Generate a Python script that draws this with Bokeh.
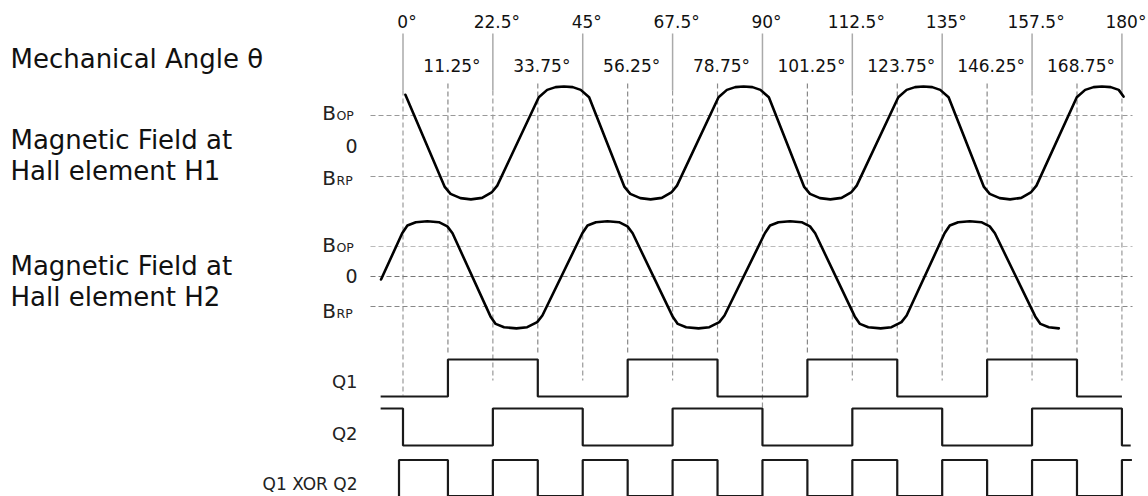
from bokeh.plotting import figure
from bokeh.models import Range1d
from bokeh.embed import file_html
from bokeh.resources import INLINE
from bokeh.core.properties import value

# ---------------- data ----------------
major_angles = [0, 22.5, 45, 67.5, 90, 112.5, 135, 157.5, 180]
major_labels = ["0°", "22.5°", "45°", "67.5°", "90°", "112.5°", "135°", "157.5°", "180°"]
minor_angles = [11.25, 33.75, 56.25, 78.75, 101.25, 123.75, 146.25, 168.75]
minor_labels = ["11.25°", "33.75°", "56.25°", "78.75°", "101.25°", "123.75°", "146.25°", "168.75°"]

# magnetic field at H1 (units: Bop = 1, Brp = -1)
h1_angle = [0.6, 10.4, 11.9, 14.4, 17.0, 19.8, 22.3, 23.6,
            34.0, 36.1, 38.2, 40.3, 42.5, 44.5, 46.6,
            55.4, 56.9, 59.4, 62.0, 64.8, 67.3, 68.6,
            79.0, 81.1, 83.2, 85.3, 87.5, 89.5, 91.6,
            100.4, 101.9, 104.4, 107.0, 109.8, 112.3, 113.6,
            124.0, 126.1, 128.2, 130.3, 132.5, 134.5, 136.6,
            145.4, 146.9, 149.4, 152.0, 154.8, 157.3, 158.6,
            168.7, 170.8, 172.9, 175.0, 177.2, 179.2, 180.4]
h1_field = [1.68, -1.33, -1.57, -1.71, -1.75, -1.70, -1.51, -1.30,
            1.60, 1.84, 1.93, 1.95, 1.93, 1.84, 1.60,
            -1.33, -1.57, -1.71, -1.75, -1.70, -1.51, -1.30,
            1.60, 1.84, 1.93, 1.95, 1.93, 1.84, 1.60,
            -1.33, -1.57, -1.71, -1.75, -1.70, -1.51, -1.30,
            1.60, 1.84, 1.93, 1.95, 1.93, 1.84, 1.60,
            -1.33, -1.57, -1.71, -1.75, -1.70, -1.51, -1.30,
            1.60, 1.84, 1.93, 1.95, 1.93, 1.84, 1.62]

# magnetic field at H2
h2_angle = [-5.5, -0.2, 1.1, 3.2, 6.1, 9.0, 11.1, 12.4,
            21.9, 23.2, 25.3, 28.4, 31.1, 33.6, 34.9,
            44.9, 46.2, 48.3, 51.2, 54.1, 56.2, 57.5,
            67.5, 68.8, 70.9, 74.0, 76.7, 79.2, 80.5,
            90.6, 91.9, 94.0, 96.9, 99.8, 101.9, 103.2,
            113.1, 114.4, 116.5, 119.6, 122.3, 124.8, 126.1,
            135.6, 136.9, 139.0, 141.9, 144.8, 146.9, 148.2,
            158.3, 159.6, 161.7, 164.2]
h2_field = [-0.10, 1.44, 1.70, 1.81, 1.84, 1.81, 1.67, 1.44,
            -1.33, -1.58, -1.69, -1.73, -1.69, -1.52, -1.30,
            1.44, 1.70, 1.81, 1.84, 1.81, 1.67, 1.44,
            -1.33, -1.58, -1.69, -1.73, -1.69, -1.52, -1.30,
            1.44, 1.70, 1.81, 1.84, 1.81, 1.67, 1.44,
            -1.33, -1.58, -1.69, -1.73, -1.69, -1.52, -1.30,
            1.44, 1.70, 1.81, 1.84, 1.81, 1.67, 1.44,
            -1.33, -1.58, -1.69, -1.73]

field_levels = [1, 0, -1]          # Bop, 0, Brp

q1_angle = [-5.6, 11.25, 33.75, 56.25, 78.75, 101.25, 123.75, 146.25, 168.75, 180]
q1_level = [0, 1, 0, 1, 0, 1, 0, 1, 0, 0]
q2_angle = [-5.6, 0, 22.5, 45, 67.5, 90, 112.5, 135, 157.5, 180, 182.2]
q2_level = [1, 0, 1, 0, 1, 0, 1, 0, 1, 0, 0]
xor_angle = [-1, -1, 11.25, 22.5, 33.75, 45, 56.25, 67.5, 78.75, 90, 101.25,
             112.5, 123.75, 135, 146.25, 157.5, 168.75, 180, 182.5]
xor_level = [0, 1, 0, 1, 0, 1, 0, 1, 0, 1, 0, 1, 0, 1, 0, 1, 0, 1, 1]

# ---------------- layout ----------------
W, H = 1148, 496
X0, PXD = 402.5, 3.994
FONT = value("DejaVu Sans")


def base(y, size):
    # compensate the renderer's baseline placement so glyph baselines land at y
    return y - 0.38 * size


p = figure(width=W, height=H, x_range=Range1d(0, W), y_range=Range1d(H, 0),
           min_border=0, toolbar_location=None, output_backend="svg",
           x_axis_location=None, y_axis_location=None)
p.grid.visible = False
p.outline_line_color = None
p.background_fill_color = "white"
p.border_fill_color = "white"


def prange(zero_px, unit_px):
    return Range1d((zero_px - H) / unit_px, zero_px / unit_px)


p.extra_x_ranges = {"deg": Range1d(-X0 / PXD, (W - X0) / PXD)}
p.extra_y_ranges = {"h1": prange(145.5, 30.5), "h2": prange(276, 30),
                    "q1": prange(396, 37), "q2": prange(445, 37),
                    "xor": prange(495.5, 36)}

# top solid tick lines (majors)
n = len(major_angles)
p.segment(x0=major_angles, x1=major_angles, y0=[33] * n, y1=[90] * n,
          x_range_name="deg", line_color="#aaaaaa", line_width=1.5)
# vertical dashed guides
maj_end = {0: 395, 90: 407}
p.segment(x0=major_angles, x1=major_angles, y0=[90] * n,
          y1=[maj_end.get(a, 380) for a in major_angles],
          x_range_name="deg", line_color="#999999", line_width=1.2, line_dash="5 3")
m = len(minor_angles)
p.segment(x0=minor_angles, x1=minor_angles, y0=[83] * m, y1=[352] * m,
          x_range_name="deg", line_color="#888888", line_width=1.2, line_dash="5 3")

# horizontal dashed levels
p.segment(x0=[370, 370], x1=[1132, 1132], y0=[1, -1], y1=[1, -1], y_range_name="h1",
          line_color="#999999", line_width=1.2, line_dash="5 3")
p.segment(x0=[370] * 3, x1=[1132] * 3, y0=field_levels, y1=field_levels, y_range_name="h2",
          line_color=["#bbbbbb", "#777777", "#888888"], line_width=1.2, line_dash="5 3")

# waveforms
p.line(h1_angle, h1_field, x_range_name="deg", y_range_name="h1",
       line_color="black", line_width=2.6, line_join="round", line_cap="round")
p.line(h2_angle, h2_field, x_range_name="deg", y_range_name="h2",
       line_color="black", line_width=2.6, line_join="round", line_cap="round")
for xs, ys, rn in [(q1_angle, q1_level, "q1"), (q2_angle, q2_level, "q2"), (xor_angle, xor_level, "xor")]:
    p.step(xs, ys, mode="after", x_range_name="deg", y_range_name=rn,
           line_color="#1a1a1a", line_width=2.2)

# angle labels
p.text(x=major_angles, y=[base(28, 17)] * n, text=major_labels, x_range_name="deg",
       text_font=FONT, text_font_size="17px", text_align="center",
       text_baseline="alphabetic", text_color="#111111", x_offset=4)
p.text(x=minor_angles, y=[base(72, 17)] * m, text=minor_labels, x_range_name="deg",
       text_font=FONT, text_font_size="17px", text_align="center",
       text_baseline="alphabetic", text_color="#111111", x_offset=4)

# left row titles
p.text(x=[10] * 5, y=[base(v, 26) for v in [68, 149, 180, 275, 306]],
       text=["Mechanical Angle θ", "Magnetic Field at", "Hall element H1",
             "Magnetic Field at", "Hall element H2"],
       text_font=FONT, text_font_size="26px", text_align="left",
       text_baseline="alphabetic", text_color="#111111")

# level labels (small caps)
lvl_base = [120, 185, 252, 318]
p.text(x=[335.5] * 4, y=[base(v, 20) for v in lvl_base], text=["B"] * 4, text_font=FONT,
       text_font_size="20px", text_align="right", text_baseline="alphabetic",
       text_color="#222222")
p.text(x=[336] * 4, y=[base(v, 12.5) for v in lvl_base], text=["OP", "RP", "OP", "RP"],
       text_font=FONT, text_font_size="12.5px", text_align="left",
       text_baseline="alphabetic", text_color="#222222")
p.text(x=[357, 357], y=[base(153, 19), base(283, 19)], text=["0", "0"], text_font=FONT,
       text_font_size="19px", text_align="right", text_baseline="alphabetic",
       text_color="#222222")
p.text(x=[357] * 2, y=[base(388, 18), base(440, 18)], text=["Q1", "Q2"], text_font=FONT,
       text_font_size="18px", text_align="right", text_baseline="alphabetic",
       text_color="#222222")
p.text(x=[357], y=[base(490, 17)], text=["Q1 XOR Q2"], text_font=FONT,
       text_font_size="17px", text_align="right", text_baseline="alphabetic",
       text_color="#222222")

open("out.html", "w").write(file_html(p, INLINE))
